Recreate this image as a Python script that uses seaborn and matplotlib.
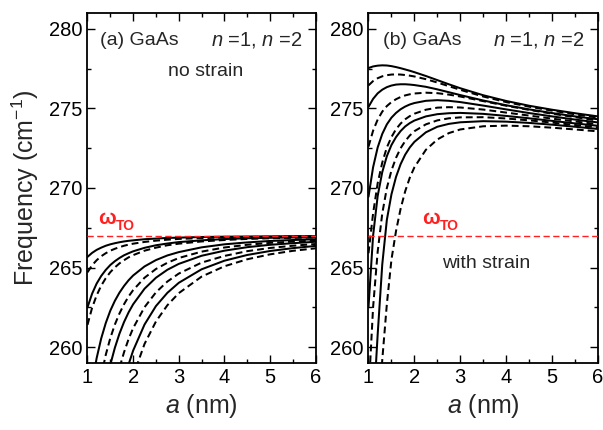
import matplotlib
matplotlib.use("Agg")
import matplotlib.pyplot as plt
from matplotlib.ticker import MultipleLocator
import numpy as np
import pandas as pd
import seaborn as sns

# ---------------- data ----------------
a_nm = [1.0, 1.1, 1.2, 1.3, 1.4, 1.5, 1.6, 1.7, 1.8, 1.9, 2.0,
        2.25, 2.5, 2.75, 3.0, 3.5, 4.0, 4.5, 5.0, 5.5, 6.0]

omega_TO = 267.0

# (a) no strain : solid = n=1, dashed = n=2
nostrain_n1_c1 = [265.67, 265.92, 266.11, 266.25, 266.37, 266.46, 266.53, 266.59, 266.64, 266.68, 266.71,
                  266.78, 266.82, 266.86, 266.88, 266.92, 266.94, 266.95, 266.96, 266.97, 266.97]
nostrain_n2_c1 = [264.70, 265.14, 265.46, 265.71, 265.90, 266.06, 266.18, 266.28, 266.37, 266.44, 266.50,
                  266.61, 266.69, 266.75, 266.80, 266.85, 266.89, 266.92, 266.93, 266.95, 266.96]
nostrain_n1_c2 = [262.50, 263.35, 263.99, 264.47, 264.85, 265.16, 265.40, 265.60, 265.77, 265.90, 266.02,
                  266.24, 266.40, 266.51, 266.60, 266.71, 266.79, 266.84, 266.87, 266.89, 266.91]
nostrain_n2_c2 = [261.40, 262.46, 263.25, 263.86, 264.33, 264.71, 265.01, 265.26, 265.46, 265.64, 265.78,
                  266.06, 266.25, 266.40, 266.50, 266.64, 266.73, 266.80, 266.84, 266.87, 266.89]
nostrain_n1_c3 = [255.50, 257.67, 259.30, 260.54, 261.51, 262.29, 262.91, 263.42, 263.84, 264.20, 264.50,
                  265.07, 265.47, 265.76, 265.97, 266.27, 266.46, 266.58, 266.67, 266.73, 266.78]
nostrain_n2_c3 = [251.30, 254.27, 256.49, 258.18, 259.51, 260.57, 261.42, 262.11, 262.69, 263.18, 263.58,
                  264.36, 264.91, 265.30, 265.60, 266.00, 266.26, 266.43, 266.55, 266.63, 266.70]
nostrain_n1_c4 = [247.20, 250.94, 253.74, 255.88, 257.55, 258.89, 259.96, 260.84, 261.57, 262.18, 262.69,
                  263.67, 264.36, 264.86, 265.23, 265.74, 266.06, 266.28, 266.43, 266.53, 266.62]
nostrain_n2_c4 = [240.30, 245.35, 249.12, 252.01, 254.26, 256.06, 257.51, 258.69, 259.67, 260.50, 261.19,
                  262.51, 263.44, 264.12, 264.62, 265.31, 265.73, 266.03, 266.23, 266.37, 266.48]
nostrain_n1_c5 = [233.80, 240.07, 244.77, 248.36, 251.16, 253.39, 255.19, 256.67, 257.89, 258.91, 259.78,
                  261.42, 262.58, 263.41, 264.04, 264.89, 265.43, 265.79, 266.04, 266.22, 266.36]
nostrain_n2_c5 = [226.50, 234.15, 239.88, 244.26, 247.68, 250.40, 252.60, 254.40, 255.89, 257.13, 258.19,
                  260.20, 261.61, 262.63, 263.39, 264.43, 265.08, 265.52, 265.83, 266.05, 266.21]

# (b) with strain
strain_n1_c1 = [277.54, 277.64, 277.69, 277.71, 277.70, 277.66, 277.60, 277.53, 277.45, 277.37, 277.28,
                277.04, 276.78, 276.52, 276.27, 275.83, 275.47, 275.17, 274.92, 274.70, 274.50]
strain_n2_c1 = [276.45, 276.72, 276.90, 277.02, 277.09, 277.13, 277.14, 277.13, 277.10, 277.06, 277.01,
                276.84, 276.63, 276.40, 276.17, 275.75, 275.40, 275.11, 274.86, 274.63, 274.42]
strain_n1_c2 = [275.10, 275.60, 275.95, 276.18, 276.34, 276.44, 276.50, 276.52, 276.52, 276.50, 276.47,
                276.36, 276.20, 276.02, 275.84, 275.50, 275.20, 274.94, 274.71, 274.50, 274.32]
strain_n2_c2 = [272.60, 273.60, 274.30, 274.80, 275.15, 275.40, 275.58, 275.72, 275.82, 275.89, 275.94,
                275.99, 275.96, 275.87, 275.75, 275.46, 275.17, 274.91, 274.67, 274.45, 274.24]
strain_n1_c3 = [269.45, 271.30, 272.55, 273.40, 274.00, 274.42, 274.72, 274.95, 275.12, 275.25, 275.34,
                275.48, 275.52, 275.48, 275.40, 275.18, 274.94, 274.71, 274.50, 274.30, 274.12]
strain_n2_c3 = [265.90, 268.40, 270.30, 271.60, 272.55, 273.20, 273.70, 274.05, 274.32, 274.52, 274.67,
                274.92, 275.05, 275.08, 275.06, 274.93, 274.74, 274.55, 274.36, 274.18, 274.01]
strain_n1_c4 = [262.50, 267.00, 269.50, 271.00, 272.00, 272.70, 273.20, 273.58, 273.87, 274.08, 274.24,
                274.50, 274.64, 274.70, 274.72, 274.66, 274.53, 274.38, 274.22, 274.06, 273.91]
strain_n2_c4 = [257.00, 262.50, 266.00, 268.40, 270.00, 271.10, 271.90, 272.50, 272.95, 273.30, 273.57,
                274.00, 274.25, 274.38, 274.44, 274.45, 274.37, 274.25, 274.11, 273.96, 273.81]
strain_n1_c5 = [250.00, 255.80, 260.80, 265.20, 268.00, 269.60, 270.70, 271.50, 272.10, 272.55, 272.90,
                273.50, 273.85, 274.03, 274.13, 274.20, 274.17, 274.09, 273.98, 273.85, 273.71]
strain_n2_c5 = [244.00, 250.00, 255.00, 259.20, 262.70, 265.50, 267.30, 268.70, 269.80, 270.65, 271.30,
                272.40, 273.05, 273.45, 273.68, 273.88, 273.92, 273.88, 273.79, 273.68, 273.56]

yticks = [260, 265, 270, 275, 280]
xticks = [1, 2, 3, 4, 5, 6]

panels = {
    "a": [nostrain_n1_c1, nostrain_n2_c1, nostrain_n1_c2, nostrain_n2_c2, nostrain_n1_c3,
          nostrain_n2_c3, nostrain_n1_c4, nostrain_n2_c4, nostrain_n1_c5, nostrain_n2_c5],
    "b": [strain_n1_c1, strain_n2_c1, strain_n1_c2, strain_n2_c2, strain_n1_c3,
          strain_n2_c3, strain_n1_c4, strain_n2_c4, strain_n1_c5, strain_n2_c5],
}


def make_df(curves):
    rows = []
    for i, ys in enumerate(curves):
        n = "n1" if i % 2 == 0 else "n2"
        for x, y in zip(a_nm, ys):
            rows.append({"a": x, "freq": y, "curve": i, "n": n})
    return pd.DataFrame(rows)


# ---------------- style ----------------
sns.set_style("ticks")
plt.rcParams["font.family"] = ["Liberation Sans", "DejaVu Sans"]
plt.rcParams["mathtext.fontset"] = "custom"
plt.rcParams["mathtext.rm"] = "Liberation Sans"
plt.rcParams["mathtext.it"] = "Liberation Sans:italic"
plt.rcParams["mathtext.bf"] = "Liberation Sans:bold"

fig = plt.figure(figsize=(6.03, 4.30), dpi=100)
axA = fig.add_axes([0.1451, 0.1558, 0.3784, 0.8140])
axB = fig.add_axes([0.6111, 0.1558, 0.3806, 0.8140])

for key, ax in (("a", axA), ("b", axB)):
    df = make_df(panels[key])
    sns.lineplot(data=df, x="a", y="freq", units="curve", estimator=None,
                 style="n", dashes={"n1": "", "n2": (3.4, 2.0)},
                 color="black", lw=1.45, legend=False, sort=False, ax=ax)
    ax.axhline(omega_TO, color="#ff2020", lw=1.0, ls=(0, (4.5, 2.5)), zorder=3)
    ax.set_xlim(1, 6)
    ax.set_ylim(259, 281)
    ax.set_xticks(xticks)
    ax.set_yticks(yticks)
    ax.xaxis.set_minor_locator(MultipleLocator(0.5))
    ax.yaxis.set_minor_locator(MultipleLocator(2.5))
    ax.tick_params(which="both", direction="in", top=True, right=True,
                   labelsize=14.5, width=1.0, colors="black")
    ax.tick_params(which="major", length=5.5)
    ax.tick_params(which="minor", length=3)
    for s in ax.spines.values():
        s.set_linewidth(1.3)
        s.set_color("black")
    ax.set_xlabel(r"$a$ (nm)", fontsize=18, labelpad=4)
    ax.set_ylabel("")
    ax.text(4.72, 279.3, r"$n$ =1, $n$ =2", fontsize=14.5, ha="center", va="center")

axA.set_ylabel(r"Frequency (cm$^{-1}$)", fontsize=18, labelpad=6)

axA.text(1.27, 279.3, "(a) GaAs", fontsize=14, ha="left", va="center")
axA.text(3.58, 277.3, "no strain", fontsize=14, ha="center", va="center")
axA.text(1.24, 268.1, "ω", color="#ff2020", fontsize=15, fontweight="bold", ha="left", va="center")
axA.text(1.63, 267.6, "TO", color="#ff2020", fontsize=10, fontweight="bold", ha="left", va="center")

axB.text(1.32, 279.3, "(b) GaAs", fontsize=14, ha="left", va="center")
axB.text(3.56, 265.27, "with strain", fontsize=14, ha="center", va="center")
axB.text(2.17, 268.1, "ω", color="#ff2020", fontsize=15, fontweight="bold", ha="left", va="center")
axB.text(2.56, 267.6, "TO", color="#ff2020", fontsize=10, fontweight="bold", ha="left", va="center")

fig.savefig("out.png", dpi=100)
